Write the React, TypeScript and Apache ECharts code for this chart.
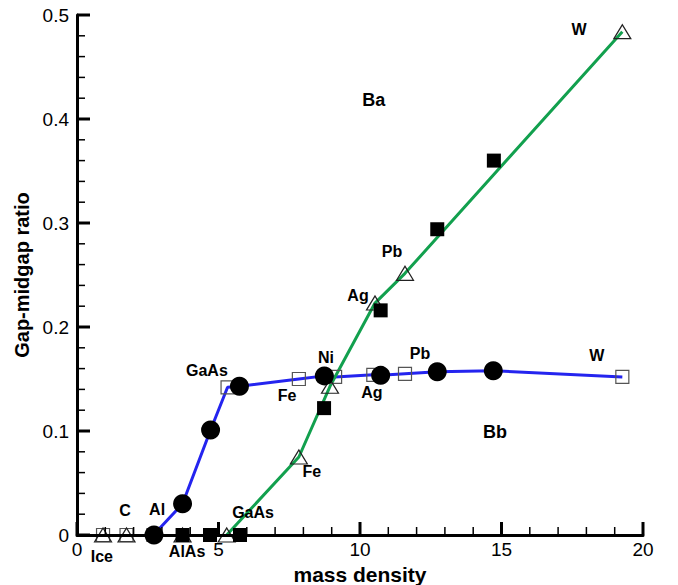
import React, { useEffect, useRef } from "react";
import * as echarts from "echarts";

// mass density (x) vs gap-midgap ratio (y)
const openSquares: number[][] = [
  [0.92, 0], [1.75, 0], [2.7, 0], [5.32, 0.142], [7.84, 0.15], [9.12, 0.152],
  [10.47, 0.154], [11.59, 0.155], [19.27, 0.152],
];
const openTriangles: number[][] = [
  [0.92, 0], [1.75, 0], [3.73, 0], [5.29, 0], [7.84, 0.075], [8.94, 0.143],
  [10.53, 0.223], [11.59, 0.2516], [19.27, 0.484],
];
const filledCircles: number[][] = [
  [2.72, 0], [3.73, 0.03], [4.72, 0.101], [5.74, 0.143], [8.74, 0.153],
  [10.73, 0.1535], [12.73, 0.157], [14.71, 0.158],
];
const filledSquares: number[][] = [
  [3.73, 0], [4.7, 0], [5.76, 0], [8.73, 0.122], [10.73, 0.216],
  [12.73, 0.294], [14.73, 0.36],
];
const xTicks = [0, 5, 10, 15, 20];
const yTicks = [0, 0.1, 0.2, 0.3, 0.4, 0.5];
const xMinorStep = 1;
const yMinorStep = 0.02;

// annotation labels: [text, x, y, size]
const annotations: [string, number, number, number][] = [
  ["W", 17.74, 0.4865, 16],
  ["Ba", 10.49, 0.418, 18],
  ["Pb", 11.13, 0.273, 16],
  ["Ag", 9.93, 0.23, 16],
  ["Ni", 8.8, 0.171, 16],
  ["Fe", 7.42, 0.134, 16],
  ["Ag", 10.42, 0.1375, 16],
  ["Pb", 12.12, 0.175, 16],
  ["W", 18.37, 0.173, 16],
  ["Bb", 14.77, 0.099, 18],
  ["GaAs", 4.59, 0.158, 16],
  ["Fe", 8.3, 0.0606, 16],
  ["GaAs", 6.22, 0.022, 16],
  ["Al", 2.83, 0.025, 16],
  ["C", 1.7, 0.024, 16],
  ["Ice", 0.88, -0.021, 16],
  ["AlAs", 3.89, -0.016, 16],
];

const FONT = "'Liberation Sans', Arial, Helvetica, sans-serif";
const BLUE = "#2424ef";
const GREEN = "#12a04e";

export default function App() {
  const ref = useRef<HTMLDivElement>(null);
  useEffect(() => {
    if (!ref.current) return;
    const chart = echarts.init(ref.current, undefined, { renderer: "svg" });

    const blueLine = [...filledCircles, ...openSquares.filter((p) => p[0] >= 2.7)]
      .sort((a, b) => a[0] - b[0]);
    const greenLine = openTriangles.filter((p) => p[0] >= 5).sort((a, b) => a[0] - b[0]);

    const xMin = xTicks[0];
    const xMax = xTicks[xTicks.length - 1];
    const yMin = yTicks[0];
    const yMax = yTicks[yTicks.length - 1];

    const axisBase = {
      axisLine: { show: true, onZero: false, lineStyle: { color: "#000", width: 3 } },
      axisTick: { show: false },
      splitLine: { show: false },
    };

    const opaque = { opacity: 1 };

    chart.setOption({
      animation: false,
      backgroundColor: "#fff",
      grid: {
        left: 77, right: 35, top: 15, bottom: 50,
        containLabel: false,
        outerBoundsMode: "none",
      },
      xAxis: {
        type: "value",
        position: "bottom",
        min: xMin,
        max: xMax,
        interval: 5,
        ...axisBase,
        axisLabel: { color: "#000", fontSize: 19, fontFamily: FONT, margin: 5 },
        name: "mass density",
        nameLocation: "middle",
        nameGap: 23,
        nameTextStyle: { color: "#000", fontSize: 21, fontWeight: "bold", fontFamily: FONT },
        z: 10,
      },
      yAxis: {
        type: "value",
        position: "left",
        min: yMin,
        max: yMax,
        interval: 0.1,
        ...axisBase,
        axisLabel: { color: "#000", fontSize: 19, fontFamily: FONT, margin: 8 },
        name: "Gap-midgap ratio",
        nameLocation: "middle",
        nameGap: 44,
        nameTextStyle: { color: "#000", fontSize: 20, fontWeight: "bold", fontFamily: FONT },
        z: 10,
      },
      series: [
        {
          type: "line",
          data: blueLine,
          showSymbol: false,
          symbol: "none",
          lineStyle: { color: BLUE, width: 3, opacity: 1 },
          z: 2,
          silent: true,
        },
        {
          type: "line",
          data: greenLine,
          showSymbol: false,
          symbol: "none",
          lineStyle: { color: GREEN, width: 3, opacity: 1 },
          z: 2,
          silent: true,
        },
        {
          type: "scatter",
          data: openSquares,
          symbol: "rect",
          symbolSize: 13,
          clip: false,
          itemStyle: { color: "rgba(0,0,0,0)", borderColor: "#555", borderWidth: 1.2, ...opaque },
          z: 3,
        },
        {
          type: "scatter",
          data: openTriangles,
          symbol: "triangle",
          symbolSize: [17, 14],
          clip: false,
          itemStyle: { color: "rgba(0,0,0,0)", borderColor: "#222", borderWidth: 1.2, ...opaque },
          z: 4,
        },
        {
          type: "scatter",
          data: filledSquares,
          symbol: "rect",
          symbolSize: 14,
          clip: false,
          itemStyle: { color: "#000", ...opaque },
          z: 5,
        },
        {
          type: "scatter",
          data: filledCircles,
          symbol: "circle",
          symbolSize: 19,
          clip: false,
          itemStyle: { color: "#000", ...opaque },
          z: 6,
        },
        {
          type: "scatter",
          symbolSize: 0,
          clip: false,
          silent: true,
          itemStyle: { opacity: 1 },
          z: 7,
          data: annotations.map(([t, x, y, s]) => ({
            name: t,
            value: [x, y],
            label: {
              show: true,
              position: "inside",
              formatter: "{b}",
              color: "#000",
              opacity: 1,
              fontWeight: "bold",
              fontSize: s,
              fontFamily: FONT,
            },
          })),
        },
      ],
    });

    // tick marks as filled rects, placed through the grid's own scales
    const ticks: any[] = [];
    const nx = Math.round((xMax - xMin) / xMinorStep);
    for (let i = 0; i <= nx; i++) {
      const p = chart.convertToPixel({ gridIndex: 0 }, [xMin + i * xMinorStep, yMin]) as number[];
      const major = i % 5 === 0;
      const w = major ? 3 : 1.5;
      const len = major ? 13 : 8;
      ticks.push({
        type: "rect",
        silent: true,
        z: 100,
        shape: { x: p[0] - w / 2, y: p[1] - len, width: w, height: len },
        style: { fill: "#000" },
      });
    }
    const ny = Math.round((yMax - yMin) / yMinorStep);
    for (let i = 0; i <= ny; i++) {
      const p = chart.convertToPixel({ gridIndex: 0 }, [xMin, yMin + i * yMinorStep]) as number[];
      const major = i % 5 === 0;
      const w = major ? 3 : 1.5;
      const len = major ? 13 : 8;
      ticks.push({
        type: "rect",
        silent: true,
        z: 100,
        shape: { x: p[0], y: p[1] - w / 2, width: len, height: w },
        style: { fill: "#000" },
      });
    }
    chart.setOption({ graphic: { elements: ticks } });

    return () => chart.dispose();
  }, []);
  return (
    <div
      ref={ref}
      style={{ position: "fixed", left: 0, top: 0, width: 678, height: 585, background: "#fff" }}
    />
  );
}
